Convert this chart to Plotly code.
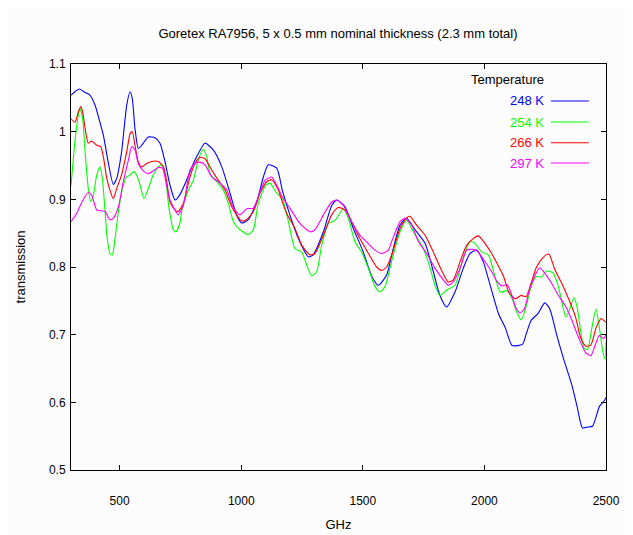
import plotly.graph_objects as go

# ---- data ----
freq_248 = [300, 334, 358, 378, 399, 419, 433, 453, 474, 488, 508, 529, 543, 552, 563, 577, 591, 618, 645, 666,
            687, 707, 728, 748, 769, 810, 851, 885, 920, 954, 981, 1002, 1029, 1064, 1091, 1111, 1146, 1170, 1200, 1235,
            1276, 1296, 1338, 1372, 1393, 1427, 1461, 1502, 1537, 1564, 1598, 1619, 1653, 1680, 1715, 1756, 1790, 1817,
            1845, 1879, 1913, 1941, 1968, 1995, 2023, 2058, 2086, 2114, 2157, 2171, 2192, 2220, 2248, 2269, 2297, 2325,
            2360, 2381, 2403, 2417, 2445, 2473, 2494, 2500]
trans_248 = [1.054, 1.063, 1.058, 1.054, 1.039, 1.014, 0.995, 0.955, 0.922, 0.931, 0.970, 1.039, 1.059, 1.049, 1.005,
             0.975, 0.980, 0.992, 0.991, 0.983, 0.955, 0.921, 0.899, 0.907, 0.923, 0.958, 0.983, 0.973, 0.948, 0.909,
             0.877, 0.865, 0.870, 0.896, 0.933, 0.951, 0.946, 0.912, 0.877, 0.842, 0.815, 0.818, 0.852, 0.891, 0.899,
             0.889, 0.857, 0.822, 0.786, 0.773, 0.788, 0.818, 0.862, 0.872, 0.855, 0.835, 0.793, 0.758, 0.741, 0.763,
             0.798, 0.820, 0.825, 0.808, 0.774, 0.731, 0.710, 0.684, 0.686, 0.700, 0.721, 0.731, 0.747, 0.738, 0.700,
             0.665, 0.625, 0.594, 0.562, 0.563, 0.565, 0.594, 0.603, 0.607]

freq_254 = [300, 316, 330, 337, 348, 358, 371, 381, 392, 406, 419, 429, 440, 449, 460, 470, 481, 495, 515, 529,
            543, 559, 570, 584, 600, 618, 638, 659, 673, 687, 703, 721, 732, 748, 756, 783, 803, 823, 844, 858,
            872, 899, 926, 947, 968, 995, 1029, 1050, 1070, 1098, 1118, 1146, 1170, 1194, 1221, 1249, 1269, 1290, 1310, 1331,
            1358, 1386, 1420, 1440, 1468, 1495, 1523, 1550, 1571, 1591, 1625, 1653, 1680, 1708, 1742, 1769, 1797, 1817,
            1845, 1879, 1906, 1941, 1961, 1989, 2016, 2044, 2065, 2093, 2114, 2136, 2152, 2171, 2192, 2213, 2234, 2255,
            2283, 2304, 2325, 2335, 2349, 2368, 2381, 2396, 2410, 2424, 2442, 2459, 2473, 2487, 2497, 2500]
trans_254 = [0.920, 0.985, 1.024, 1.034, 1.019, 0.970, 0.916, 0.897, 0.906, 0.936, 0.948, 0.931, 0.882, 0.842, 0.820,
             0.818, 0.842, 0.882, 0.921, 0.933, 0.936, 0.941, 0.936, 0.921, 0.901, 0.916, 0.936, 0.948, 0.951, 0.936,
             0.887, 0.855, 0.852, 0.865, 0.884, 0.914, 0.928, 0.958, 0.974, 0.963, 0.938, 0.926, 0.914, 0.894, 0.867,
             0.855, 0.848, 0.855, 0.894, 0.919, 0.924, 0.909, 0.900, 0.867, 0.827, 0.822, 0.803, 0.787, 0.793, 0.832,
             0.864, 0.869, 0.886, 0.872, 0.837, 0.822, 0.798, 0.771, 0.763, 0.771, 0.818, 0.852, 0.869, 0.852, 0.832,
             0.808, 0.773, 0.758, 0.766, 0.773, 0.805, 0.838, 0.835, 0.822, 0.818, 0.785, 0.763, 0.765, 0.753, 0.731,
             0.722, 0.741, 0.771, 0.786, 0.785, 0.794, 0.791, 0.771, 0.738, 0.726, 0.736, 0.755, 0.741, 0.705, 0.680,
             0.678, 0.710, 0.738, 0.710, 0.675, 0.664, 0.690]

freq_266 = [300, 316, 330, 340, 348, 358, 371, 385, 406, 422, 433, 447, 460, 474, 488, 508, 529, 543, 552, 563,
            577, 591, 611, 632, 659, 680, 694, 707, 728, 741, 762, 789, 810, 830, 851, 879, 906, 933, 961, 981,
            1002, 1022, 1050, 1077, 1105, 1125, 1152, 1170, 1187, 1221, 1249, 1283, 1303, 1338, 1372, 1399, 1427, 1454,
            1488, 1523, 1557, 1578, 1598, 1619, 1653, 1680, 1694, 1721, 1756, 1790, 1824, 1851, 1872, 1900, 1927, 1954,
            1975, 2002, 2030, 2051, 2079, 2100, 2128, 2150, 2171, 2192, 2213, 2241, 2265, 2290, 2318, 2346, 2375, 2396,
            2417, 2438, 2459, 2480, 2500]
trans_266 = [1.019, 1.014, 1.029, 1.037, 1.029, 1.005, 0.983, 0.986, 0.980, 0.978, 0.963, 0.931, 0.914, 0.901, 0.916,
             0.936, 0.970, 0.997, 1.000, 0.980, 0.955, 0.948, 0.953, 0.956, 0.956, 0.948, 0.926, 0.896, 0.884, 0.882,
             0.894, 0.933, 0.953, 0.962, 0.960, 0.943, 0.928, 0.914, 0.889, 0.877, 0.868, 0.870, 0.882, 0.909, 0.926,
             0.929, 0.914, 0.895, 0.879, 0.857, 0.832, 0.818, 0.820, 0.847, 0.877, 0.888, 0.884, 0.867, 0.842, 0.820,
             0.800, 0.795, 0.800, 0.818, 0.857, 0.873, 0.875, 0.862, 0.847, 0.822, 0.795, 0.778, 0.781, 0.808, 0.832,
             0.842, 0.846, 0.835, 0.820, 0.806, 0.786, 0.763, 0.753, 0.758, 0.756, 0.776, 0.799, 0.814, 0.819, 0.796,
             0.776, 0.753, 0.726, 0.695, 0.683, 0.685, 0.710, 0.724, 0.718]

freq_297 = [300, 323, 345, 371, 385, 406, 426, 440, 460, 474, 495, 515, 536, 550, 563, 577, 597, 618, 638, 659,
            676, 694, 707, 728, 741, 762, 789, 810, 830, 851, 879, 906, 940, 968, 995, 1022, 1050, 1070, 1098, 1125,
            1146, 1170, 1200, 1242, 1283, 1303, 1338, 1372, 1393, 1420, 1454, 1488, 1516, 1550, 1578, 1605, 1619, 1653,
            1674, 1701, 1728, 1763, 1797, 1831, 1851, 1872, 1900, 1927, 1954, 1975, 2002, 2030, 2051, 2072, 2093, 2110,
            2128, 2147, 2164, 2185, 2206, 2227, 2248, 2276, 2304, 2332, 2360, 2388, 2417, 2438, 2456, 2473, 2490, 2500]
trans_297 = [0.867, 0.879, 0.896, 0.910, 0.906, 0.884, 0.883, 0.882, 0.870, 0.872, 0.889, 0.926, 0.958, 0.978, 0.973,
             0.953, 0.942, 0.938, 0.942, 0.947, 0.946, 0.919, 0.899, 0.884, 0.877, 0.891, 0.943, 0.953, 0.955, 0.951,
             0.933, 0.926, 0.914, 0.887, 0.877, 0.886, 0.887, 0.904, 0.928, 0.933, 0.921, 0.903, 0.887, 0.864, 0.852,
             0.855, 0.877, 0.896, 0.899, 0.891, 0.867, 0.847, 0.837, 0.825, 0.820, 0.825, 0.838, 0.867, 0.872, 0.862,
             0.838, 0.820, 0.798, 0.781, 0.773, 0.778, 0.798, 0.825, 0.826, 0.822, 0.808, 0.793, 0.779, 0.772, 0.774,
             0.761, 0.741, 0.732, 0.738, 0.766, 0.786, 0.799, 0.791, 0.776, 0.758, 0.743, 0.721, 0.695, 0.673, 0.669,
             0.685, 0.699, 0.694, 0.700]

series_labels = ["248 K", "254 K", "266 K", "297 K"]
series_colors = ["#0000ff", "#00ff00", "#ff0000", "#ff00ff"]
x_tickvals = [500, 1000, 1500, 2000, 2500]
y_tickvals = [0.5, 0.6, 0.7, 0.8, 0.9, 1.0, 1.1]
y_ticktext = ["0.5", "0.6", "0.7", "0.8", "0.9", "1", "1.1"]

series_x = [freq_248, freq_254, freq_266, freq_297]
series_y = [trans_248, trans_254, trans_266, trans_297]

FONT = "Liberation Sans, Arial, sans-serif"
BG = "#fcfcfc"

fig = go.Figure()
for xs, ys, lab, col in zip(series_x, series_y, series_labels, series_colors):
    fig.add_trace(go.Scatter(x=xs, y=ys, mode="lines", name=lab,
                             line=dict(color=col, width=1.1, shape="spline", smoothing=0.6),
                             showlegend=False))

# gnuplot-style key (text right-aligned, sample line to its right)
fig.add_annotation(x=0.887, y=0.963, xref="paper", yref="paper", text="Temperature",
                   showarrow=False, xanchor="right", yanchor="middle",
                   font=dict(family=FONT, size=13, color="black"))
key_y = [0.909, 0.857, 0.806, 0.756]
for lab, col, ky in zip(series_labels, series_colors, key_y):
    fig.add_annotation(x=0.887, y=ky, xref="paper", yref="paper", text=lab,
                       showarrow=False, xanchor="right", yanchor="middle",
                       font=dict(family=FONT, size=13, color=col))
    fig.add_shape(type="line", xref="paper", yref="paper", x0=0.897, x1=0.968, y0=ky, y1=ky,
                  line=dict(color=col, width=1.1))

# page body has an 8px margin, so the figure is sized/offset to compensate
fig.update_layout(
    width=625, height=527,
    margin=dict(l=63, r=27, t=56, b=65, autoexpand=False),
    paper_bgcolor=BG, plot_bgcolor=BG,
    font=dict(family=FONT, size=12, color="black"),
    title=dict(text="Goretex RA7956, 5 x 0.5 mm nominal thickness (2.3 mm total)",
               x=(338 - 8) / 625, xanchor="center", y=1 - 25 / 527, yanchor="middle",
               font=dict(family=FONT, size=13, color="black")),
)
fig.update_xaxes(range=[300, 2500], tickvals=x_tickvals, ticks="inside", ticklen=5,
                 tickcolor="black", showline=True, linecolor="black", linewidth=1, mirror="allticks",
                 showgrid=False, zeroline=False, ticklabelstandoff=20, automargin=False,
                 title=dict(text="GHz", standoff=12, font=dict(family=FONT, size=13)),
                 tickfont=dict(family=FONT, size=12))
fig.update_yaxes(range=[0.5, 1.1], tickvals=y_tickvals, ticktext=y_ticktext, ticks="inside", ticklen=5,
                 tickcolor="black", showline=True, linecolor="black", linewidth=1, mirror="allticks",
                 showgrid=False, zeroline=False, ticklabelstandoff=2, automargin=False,
                 title=dict(text="transmission", standoff=20, font=dict(family=FONT, size=13)),
                 tickfont=dict(family=FONT, size=12))

fig.write_html("out.html")
